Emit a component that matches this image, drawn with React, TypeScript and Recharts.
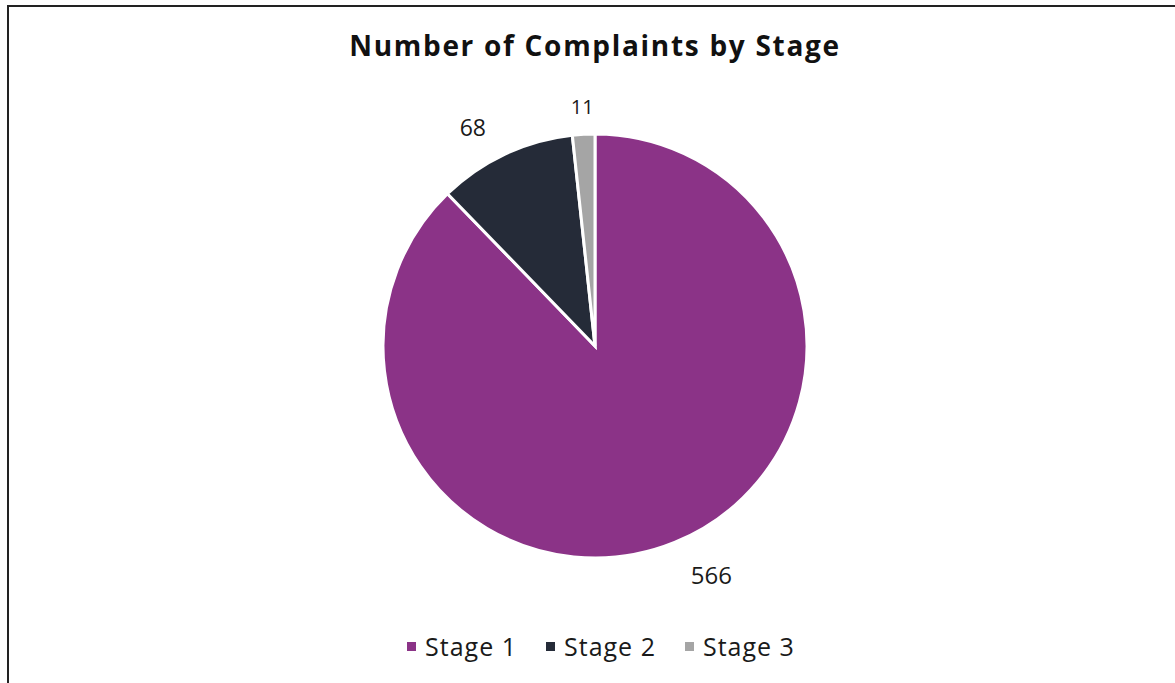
import React from 'react'
import { PieChart, Pie, Cell, Legend } from 'recharts'

const stages = ['Stage 1', 'Stage 2', 'Stage 3']
const complaints = [566, 68, 11]

const COLORS = ['#8B3387', '#252B38', '#A5A5A5']
const FONT = '"Open Sans", Lato, sans-serif'
const RAD = Math.PI / 180

// best-fit style label placement: extra radius and angle nudge per slice
const labelPush = [
  { dr: 44, da: -5, size: 24 },
  { dr: 39, da: -4, size: 23 },
  { dr: 28, da: 0, size: 20 },
]

const data = stages.map((name, i) => ({ name, value: complaints[i] }))

const renderLabel = (props: any) => {
  const { cx, cy, midAngle, outerRadius, value, index } = props
  const p = labelPush[index]
  const theta = (90 - midAngle + p.da) * RAD
  const r = outerRadius + p.dr
  const x = cx + r * Math.sin(theta)
  const y = cy - r * Math.cos(theta)
  return (
    <text
      x={x}
      y={y}
      textAnchor="middle"
      dominantBaseline="central"
      fill="#1a1a1a"
      fontSize={p.size}
      fontFamily={FONT}
    >
      {value}
    </text>
  )
}

const renderLegend = () => (
  <div
    style={{
      display: 'flex',
      justifyContent: 'center',
      gap: 29,
      paddingLeft: 12,
      fontFamily: FONT,
      fontSize: 25,
      letterSpacing: 1,
      color: '#1a1a1a',
    }}
  >
    {stages.map((s, i) => (
      <div key={s} style={{ display: 'flex', alignItems: 'center', gap: 9 }}>
        <span style={{ width: 9, height: 9, background: COLORS[i], display: 'inline-block' }} />
        <span>{s}</span>
      </div>
    ))}
  </div>
)

export default function App() {
  return (
    <div style={{ position: 'absolute', left: 0, top: 0, width: 1175, height: 683, overflow: 'hidden', background: '#fff' }}>
      <div
        style={{
          position: 'absolute',
          left: 7,
          top: 5,
          width: 1300,
          height: 800,
          border: '2px solid #222',
        }}
      />
      <div
        style={{
          position: 'absolute',
          left: 0,
          top: 26,
          width: 1190,
          textAlign: 'center',
          fontFamily: FONT,
          fontWeight: 700,
          fontSize: 28,
          letterSpacing: 1.7,
          color: '#111',
        }}
      >
        Number of Complaints by Stage
      </div>
      <div style={{ position: 'absolute', left: 0, top: 0 }}>
        <PieChart width={1190} height={683} margin={{ top: 0, right: 0, bottom: 0, left: 0 }}>
          <Pie
            data={data}
            dataKey="value"
            nameKey="name"
            cx={595}
            cy={346}
            outerRadius={212}
            startAngle={90}
            endAngle={-270}
            stroke="#fff"
            strokeWidth={3}
            label={renderLabel}
            labelLine={false}
            isAnimationActive={false}
          >
            {data.map((d, i) => (
              <Cell key={d.name} fill={COLORS[i]} />
            ))}
          </Pie>
          <Legend
            verticalAlign="bottom"
            content={renderLegend}
            wrapperStyle={{ bottom: 20 }}
          />
        </PieChart>
      </div>
    </div>
  )
}
